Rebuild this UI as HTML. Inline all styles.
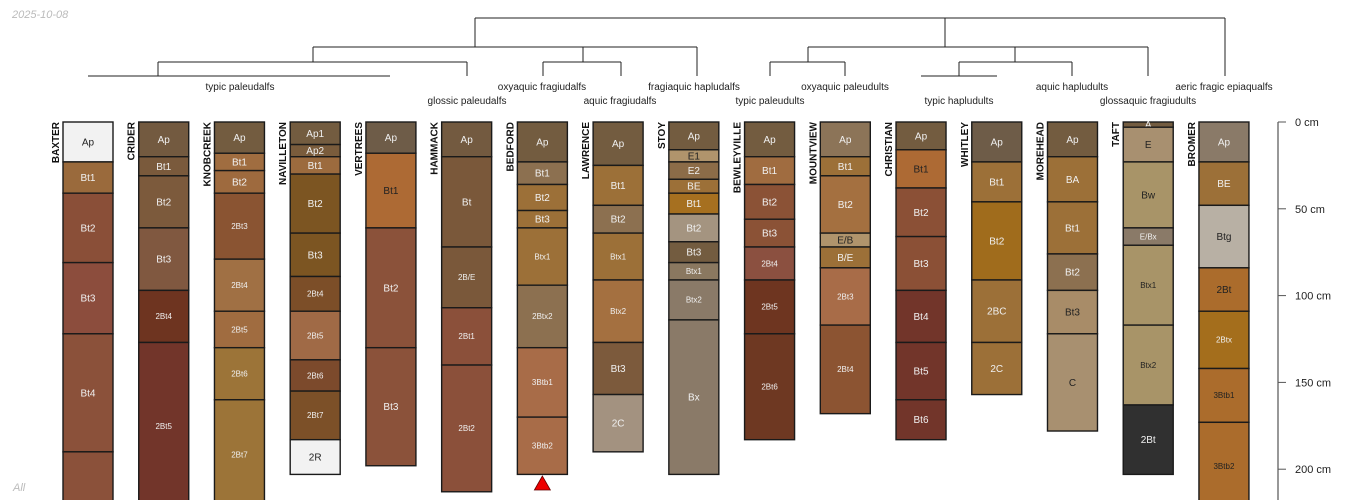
<!DOCTYPE html>
<html><head><meta charset="utf-8"><style>
html,body{margin:0;padding:0;background:#fff;width:1350px;height:500px;overflow:hidden}
svg{display:block;font-family:"Liberation Sans",sans-serif}
</style></head><body>
<svg id="chart" width="1350" height="500" viewBox="0 0 1350 500" xmlns="http://www.w3.org/2000/svg">
<text x="12" y="18" font-size="11" font-style="italic" fill="#bbb">2025-10-08</text>
<text x="13" y="491" font-size="11" font-style="italic" fill="#bbb">All</text>
<g id="dendro" stroke="#222" stroke-width="1" fill="none"></g>
<g id="taxa" font-size="10" fill="#222" text-anchor="middle"></g>
<g id="profiles"></g>
<g id="axis"></g>
</svg>
<script>
const NS="http://www.w3.org/2000/svg";
// data
const names=["BAXTER","CRIDER","KNOBCREEK","NAVILLETON","VERTREES","HAMMACK","BEDFORD","LAWRENCE","STOY","BEWLEYVILLE","MOUNTVIEW","CHRISTIAN","WHITLEY","MOREHEAD","TAFT","BROMER"];
const bottoms=[
[23,41,81,122,190,232],
[20,31,61,97,127,232],
[18,28,41,79,109,130,160,232],
[13,20,30,64,89,109,137,155,183,203],
[18,61,130,198],
[20,72,107,140,213],
[23,36,51,61,94,130,170,203],
[25,48,64,91,127,157,190],
[16,23,33,41,53,69,81,91,114,203],
[20,36,56,72,91,122,183],
[20,31,64,72,84,117,168],
[16,38,66,97,127,160,183],
[23,46,91,127,157],
[20,46,76,97,122,178],
[3,23,61,71,117,163,203],
[23,48,84,109,142,173,232]];
const horizons=[
["Ap","Bt1","Bt2","Bt3","Bt4",""],
["Ap","Bt1","Bt2","Bt3","2Bt4","2Bt5"],
["Ap","Bt1","Bt2","2Bt3","2Bt4","2Bt5","2Bt6","2Bt7"],
["Ap1","Ap2","Bt1","Bt2","Bt3","2Bt4","2Bt5","2Bt6","2Bt7","2R"],
["Ap","Bt1","Bt2","Bt3"],
["Ap","Bt","2B/E","2Bt1","2Bt2"],
["Ap","Bt1","Bt2","Bt3","Btx1","2Btx2","3Btb1","3Btb2"],
["Ap","Bt1","Bt2","Btx1","Btx2","Bt3","2C"],
["Ap","E1","E2","BE","Bt1","Bt2","Bt3","Btx1","Btx2","Bx"],
["Ap","Bt1","Bt2","Bt3","2Bt4","2Bt5","2Bt6"],
["Ap","Bt1","Bt2","E/B","B/E","2Bt3","2Bt4"],
["Ap","Bt1","Bt2","Bt3","Bt4","Bt5","Bt6"],
["Ap","Bt1","Bt2","2BC","2C"],
["Ap","BA","Bt1","Bt2","Bt3","C"],
["A","E","Bw","E/Bx","Btx1","Btx2","2Bt"],
["Ap","BE","Btg","2Bt","2Btx","3Btb1","3Btb2"]];
const colors=[
["#f2f2f2","#9a6a3c","#8a4f38","#8c4d3d","#8b513a","#8b513a"],
["#735a40","#7a5a3c","#7c5a3c","#805840","#6e3420","#72352a"],
["#735c40","#a06d40","#9e6a3e","#8a5432","#a07044","#a06c40","#9c7438","#9c7438"],
["#735c40","#7a5c3c","#9c6b3e","#7c5522","#7c5522","#7c4e28","#a06a46","#7c4a2c","#7c5028","#f2f2f2"],
["#6e5c48","#ad6a34","#8b523a","#8b523a"],
["#735a40","#7a583a","#7a583a","#8b503a","#8b503a"],
["#735c40","#8c7050","#9c7038","#9c7038","#9c7038","#8c7050","#a86c48","#a86c48"],
["#735c40","#9c7038","#8c7050","#9c7038","#a47040","#7c5a3c","#a39280"],
["#735c40","#b0946c","#8c6c48","#9c7038","#a67020","#a49480","#735c40","#8a7860","#8a7a68","#8a7a68"],
["#735c40","#a06c40","#8b5236","#8b5236","#8b5040","#6e3520","#6e3822"],
["#8c7458","#9c7038","#a47040","#b0946c","#9c7038","#a86c48","#8c5432"],
["#735c40","#ad6a34","#8b5036","#8b5036","#72352a","#72352a","#72352a"],
["#6e5c48","#9c7038","#a06c1c","#9c7038","#9c7038"],
["#735c40","#9c7038","#9c7038","#8c7050","#a88c68","#a89070"],
["#735c40","#a89070","#a89468","#8a7a68","#a89468","#a89468","#303030"],
["#8a7a68","#9c7038","#b8b0a4","#ab6c2c","#a46e1c","#ab6c2c","#ab6c2c"]];
const darkText=["#f2f2f2","#ad6a34","#b0946c","#a88c68","#a89070","#a89468","#b8b0a4","#ab6c2c"];
const taxaNames=["typic paleudalfs","glossic paleudalfs","oxyaquic fragiudalfs","aquic fragiudalfs","fragiaquic hapludalfs","typic paleudults","oxyaquic paleudults","typic hapludults","aquic hapludults","glossaquic fragiudults","aeric fragic epiaqualfs"];
const depthTicks=[0,50,100,150,200];

const y=d=>122+d*1.736;
const xL=i=>63+i*75.73;
const W=50;
function mk(tag,attrs,parent){const e=document.createElementNS(NS,tag);for(const k in attrs)e.setAttribute(k,attrs[k]);parent.appendChild(e);return e;}

// dendrogram segments (layout, not data)
const dg=document.getElementById('dendro');
const segs=[[475,18,1225,18],[475,18,475,47],[945,18,945,47],[1225,18,1225,76],
[313,47,697,47],[583,47,583,62],[697,47,697,76],[313,47,313,62],[158,62,467,62],[158,62,158,76],[88,76,390,76],[467,62,467,76],
[543,62,621,62],[543,62,543,76],[621,62,621,76],
[808,47,1148,47],[1148,47,1148,76],[808,47,808,62],[770,62,845,62],[770,62,770,76],[845,62,845,76],
[1015,47,1015,62],[959,62,1072,62],[959,62,959,76],[1072,62,1072,76],[921,76,997,76]];
segs.forEach(s=>{const l=mk('line',{x1:s[0],y1:s[1],x2:s[2],y2:s[3]},dg);

});
const tg=document.getElementById('taxa');
const taxaPos=[[240,90],[467,104],[542,90],[620,104],[694,90],[770,104],[845,90],[959,104],[1072,90],[1148,104],[1224,90]];
taxaNames.forEach((t,i)=>{const e=mk('text',{x:taxaPos[i][0],y:taxaPos[i][1]},tg);e.textContent=t;

});

const pg=document.getElementById('profiles');
names.forEach((n,i)=>{
  const g=mk('g',{},pg);
  
  
  const x=xL(i);
  const nt=mk('text',{transform:`translate(${x-4},122) rotate(-90)`,'text-anchor':'end','font-size':'10','font-weight':'bold',fill:'#111'},g);
  nt.textContent=n;
  
  
  let top=0;
  bottoms[i].forEach((b,j)=>{
    const y0=y(top),y1=Math.min(y(b),510);
    const r=mk('rect',{x:x,y:y0,width:W,height:y1-y0,fill:colors[i][j],stroke:'#1a1a1a','stroke-width':1.4},g);
    
    
    const lab=horizons[i][j];
    if(lab){
      const fs=lab.length>=4?8:10;
      const t=mk('text',{x:x+W/2,y:Math.min((y0+y1)/2,495)+fs*0.35,'text-anchor':'middle','font-size':fs,fill:darkText.includes(colors[i][j])?'#222':'#f0f0f0'},g);
      t.textContent=lab;
      
      
    }
    top=b;
  });
});
// bedford marker
const tri=mk('polygon',{points:`${xL(6)+W/2},476 ${xL(6)+W/2-8},490 ${xL(6)+W/2+8},490`,fill:'#e00',stroke:'#600','stroke-width':0.8},pg);



const ag=document.getElementById('axis');
const al=mk('line',{x1:1278,y1:y(0),x2:1278,y2:500,stroke:'#777','stroke-width':1.5},ag);


depthTicks.forEach(d=>{
  const tk=mk('line',{x1:1278,y1:y(d),x2:1286,y2:y(d),stroke:'#555','stroke-width':1},ag);
  
  
  const t=mk('text',{x:1295,y:y(d)+4,'font-size':'11',fill:'#222'},ag);
  t.textContent=d+' cm';
  
  
});
</script>
</body></html>
